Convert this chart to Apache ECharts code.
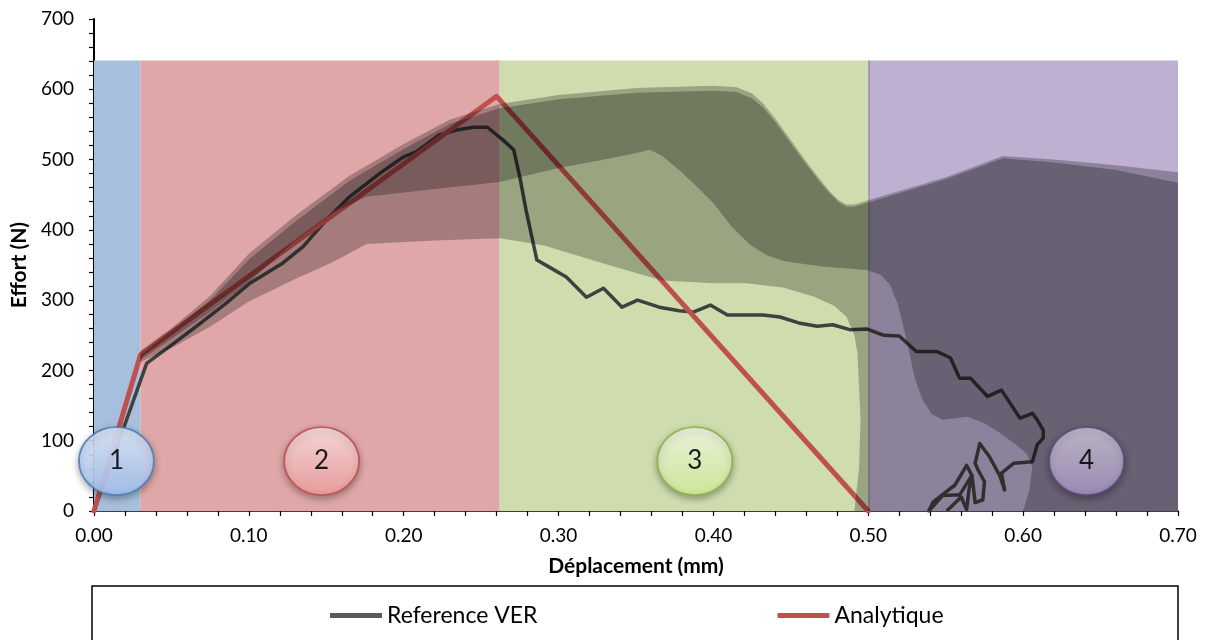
<!DOCTYPE html>
<html><head><meta charset="utf-8">
<script src="https://cdn.jsdelivr.net/npm/echarts/dist/echarts.min.js"></script>
<style>html,body{margin:0;padding:0;background:#fff}#c{width:1205px;height:640px}</style>
</head><body><div id="c"></div>
<script>
// ---------- data ----------
const zoneEdges = [0, 0.03, 0.262, 0.50, 0.70];
const zoneTop = 641;

const referenceVER = [
  [0,0],[0.034,210],[0.05,236],[0.068,266],[0.085,295],[0.1007,324],[0.122,353],[0.135,376],
  [0.15,414],[0.165,447],[0.185,481],[0.2,504],[0.208,511],[0.223,535],[0.234,542],[0.245,546],
  [0.254,546],[0.264,528],[0.271,514],[0.275,475],[0.279,428],[0.286,357],[0.294,347],[0.305,333],
  [0.318,304],[0.329,317],[0.341,290],[0.351,300],[0.365,290],[0.378,285],[0.387,283],[0.398,293],
  [0.409,279],[0.432,279],[0.443,276],[0.456,267],[0.467,263],[0.477,265],[0.488,258],[0.499,259],
  [0.510,250],[0.520,249],[0.531,227],[0.544,227],[0.553,218],[0.559,189],[0.566,189],[0.577,163],
  [0.586,172],[0.598,132],[0.606,139],[0.609,130],[0.613,115],[0.613,104],[0.609,94],[0.606,70],
  [0.594,68],[0.586,54],[0.588,30],[0.585,50],[0.578,78],[0.572,96],[0.569,68],[0.571,58],
  [0.575,42],[0.574,16],[0.569,12],[0.567,50],[0.5635,65],[0.556,37],[0.542,13],[0.539,0],
  [0.548,22],[0.559,23],[0.567,51],[0.565,30],[0.5635,2],[0.560,20],[0.5506,0]
];
const analytique = [[0,0],[0.03,222],[0.26,590],[0.50,0]];

// envelopes (two overlapping translucent areas)
const bandA_upper = [[0.03,228],[0.05,260],[0.075,306],[0.10,366],[0.13,420],[0.165,477],[0.20,522],
  [0.23,557],[0.262,579],[0.30,592],[0.35,602],[0.40,605],[0.415,603],[0.425,594],[0.432,580],
  [0.44,558],[0.45,528],[0.46,497],[0.468,474],[0.475,455],[0.481,442],[0.486,436],[0.491,436],
  [0.50,442],[0.55,475],[0.587,505],[0.62,500],[0.66,492],[0.70,482]];
const bandA_lower = [[0.03,212],[0.05,232],[0.075,262],[0.10,298],[0.13,330],[0.155,355],[0.176,380],
  [0.22,385],[0.262,388],[0.29,378],[0.314,362],[0.34,345],[0.367,328],[0.40,324],[0.421,324],
  [0.445,318],[0.465,305],[0.478,292],[0.486,276],[0.491,250],[0.493,225],[0.495,130],[0.494,60],
  [0.491,0],[0.70,0]];
const bandB_upper = [[0.03,222],[0.05,256],[0.075,300],[0.10,358],[0.13,412],[0.165,470],[0.20,515],
  [0.23,551],[0.262,573],[0.30,586],[0.35,595],[0.40,598],[0.415,596],[0.425,587],[0.432,574],
  [0.44,553],[0.45,523],[0.46,493],[0.468,470],[0.475,452],[0.481,439],[0.486,433],[0.491,433],
  [0.50,439],[0.55,472],[0.587,502],[0.62,496],[0.66,485],[0.70,467]];
const bandB_lower = [[0.03,215],[0.05,245],[0.075,283],[0.10,325],[0.13,385],[0.155,425],[0.176,447],
  [0.22,458],[0.262,468],[0.30,488],[0.327,499],[0.345,507],[0.359,514],[0.367,505],[0.379,483],
  [0.39,460],[0.40,438],[0.412,404],[0.424,378],[0.435,363],[0.447,355],[0.47,348],[0.499,343],
  [0.508,336],[0.514,322],[0.519,295],[0.524,250],[0.530,190],[0.535,158],[0.541,138],[0.548,130],
  [0.564,134],[0.575,125],[0.585,111],[0.595,95],[0.602,82],[0.606,63],[0.604,30],[0.600,0],[0.70,0]];

const phaseLabels = ['1','2','3','4'];
const phaseX = [0.0145, 0.147, 0.388, 0.641];
const phaseY = [71, 71, 71, 71];

// ---------- styles ----------
const FONT = 'Lato, "Open Sans", sans-serif';
const zoneColors = ['#a7bfdc','#dfa7a8','#cfddae','#bfb0d1'];
const circleStyles = [
  {top:'#e2edfd', bottom:'#a6c3f2', border:'#4a7ebb'},
  {top:'#ffe3e3', bottom:'#f2a0a0', border:'#c0504d'},
  {top:'#f6fdea', bottom:'#d4f09c', border:'#8fb04a'},
  {top:'#cbc4d6', bottom:'#a593bf', border:'#5f4a7d'}
];

const zoneData = [];
for (let i = 0; i < zoneEdges.length - 1; i++) zoneData.push([zoneEdges[i], 0, zoneEdges[i+1]]);

function band(upper, lower) {
  const poly = upper.concat(lower.slice().reverse());
  return {
    type: 'custom', z: 3, silent: true, data: [[0,0]],
    renderItem: (params, api) => ({
      type: 'polygon',
      shape: { points: poly.map(p => api.coord(p)) },
      style: { fill: 'rgba(0,0,0,0.26)' }
    })
  };
}

const circleData = phaseLabels.map((t, i) => ({
  value: [phaseX[i], phaseY[i]],
  name: t,
  itemStyle: {
    color: new echarts.graphic.LinearGradient(0,0,0,1,[
      {offset:0, color: circleStyles[i].top},
      {offset:1, color: circleStyles[i].bottom}
    ]),
    borderColor: circleStyles[i].border
  }
}));

const chart = echarts.init(document.getElementById('c'), null, {renderer: 'canvas'});
chart.setOption({
  animation: false,
  backgroundColor: '#fff',
  grid: { left: 94, right: 27, top: 19, bottom: 129, containLabel: false },
  xAxis: {
    type: 'value', min: 0, max: 0.7, interval: 0.1,
    name: 'Déplacement (mm)', nameLocation: 'middle', nameGap: 45,
    nameTextStyle: { fontFamily: FONT, fontWeight: 'bold', fontSize: 21, color: '#000' },
    axisLine: { show: true, onZero: false, lineStyle: { color: '#000', width: 1.5 } },
    axisTick: { show: true, length: 5, lineStyle: { color: '#000', width: 1.2 } },
    minorTick: { show: true, splitNumber: 5, length: 5, lineStyle: { color: '#000', width: 1.2 } },
    splitLine: { show: false },
    axisLabel: { fontFamily: FONT, fontSize: 19, color: '#000', margin: 15,
      formatter: v => v.toFixed(2) }
  },
  yAxis: {
    type: 'value', min: 0, max: 700, interval: 100,
    name: 'Effort (N)', nameLocation: 'middle', nameGap: 56,
    nameTextStyle: { fontFamily: FONT, fontWeight: 'bold', fontSize: 21, color: '#000' },
    axisLine: { show: true, lineStyle: { color: '#000', width: 2 } },
    axisTick: { show: true, length: 5, lineStyle: { color: '#000', width: 1.2 } },
    minorTick: { show: true, splitNumber: 5, length: 5, lineStyle: { color: '#000', width: 1.2 } },
    splitLine: { show: false },
    axisLabel: { fontFamily: FONT, fontSize: 19, color: '#000', margin: 20 }
  },
  legend: {
    left: 325, top: 599, itemGap: 240, itemWidth: 52, itemHeight: 5,
    textStyle: { fontFamily: FONT, fontSize: 23, color: '#000' },
    data: [
      { name: 'Reference VER', icon: 'rect' },
      { name: 'Analytique', icon: 'roundRect' }
    ]
  },
  graphic: [{
    type: 'rect', z: 100, silent: true,
    shape: { x: 92, y: 586, width: 1086, height: 70 },
    style: { fill: 'none', stroke: '#000', lineWidth: 1.5 }
  }],
  series: [
    {
      type: 'custom', z: 1, silent: true, data: zoneData,
      encode: { x: [0, 2], y: 1 },
      renderItem: (params, api) => {
        const p0 = api.coord([api.value(0), zoneTop]);
        const p1 = api.coord([api.value(2), 0]);
        return { type: 'rect',
          shape: { x: p0[0], y: p0[1], width: p1[0]-p0[0], height: p1[1]-p0[1] },
          style: { fill: zoneColors[params.dataIndex] } };
      },
      markLine: {
        silent: true, symbol: 'none', label: { show: false },
        lineStyle: { color: 'rgba(0,0,0,0.22)', width: 1.5, type: 'solid' },
        data: [[{ coord: [zoneEdges[3], 0] }, { coord: [zoneEdges[3], zoneTop] }]]
      }
    },
    {
      name: 'Reference VER', type: 'line', z: 2, data: referenceVER,
      showSymbol: false, symbol: 'none', smooth: false,
      lineStyle: { color: '#404040', width: 3.5, join: 'round' },
      itemStyle: { color: '#595959' }
    },
    {
      name: 'Analytique', type: 'line', z: 2, data: analytique,
      showSymbol: false, symbol: 'none',
      lineStyle: { color: '#c0504d', width: 5, join: 'round', cap: 'round' },
      itemStyle: { color: '#c0504d' }
    },
    band(bandA_upper, bandA_lower),
    band(bandB_upper, bandB_lower),
    {
      type: 'scatter', z: 5, silent: true, data: circleData,
      symbol: 'circle', symbolSize: [75, 68],
      itemStyle: { borderWidth: 1.8, opacity: 0.88,
        shadowBlur: 7, shadowOffsetY: 3, shadowColor: 'rgba(0,0,0,0.35)' },
      label: { show: true, position: 'inside', formatter: p => p.name,
        fontFamily: FONT, fontSize: 26, color: '#000' }
    }
  ]
});
</script>
</body></html>
